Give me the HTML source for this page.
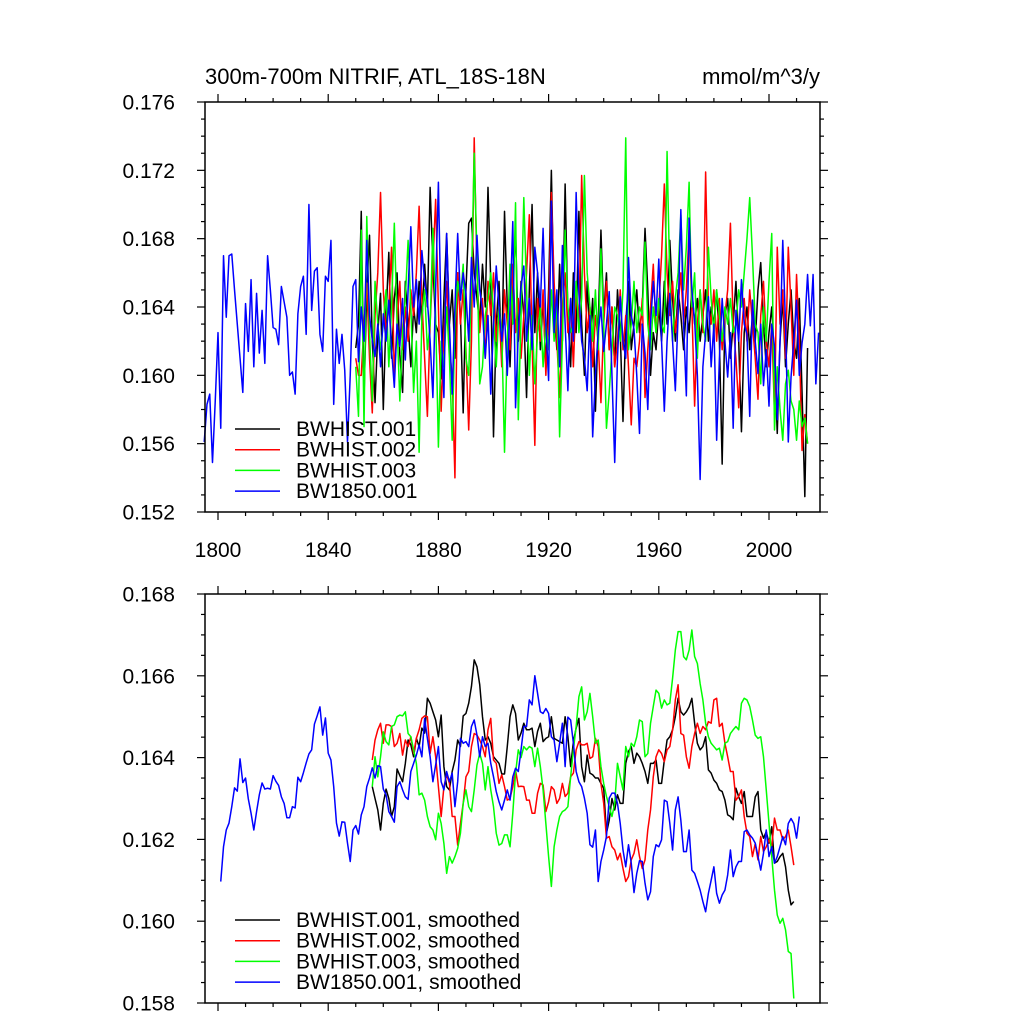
<!DOCTYPE html>
<html><head><meta charset="utf-8">
<style>
html,body{margin:0;padding:0;background:#fff;}
svg{display:block;font-family:"Liberation Sans",sans-serif;}
</style></head>
<body>
<svg id="chart" width="1024" height="1024" viewBox="0 0 1024 1024">
<text x="205" y="84" font-size="22">300m-700m NITRIF, ATL_18S-18N</text>
<text x="820" y="84" font-size="22" text-anchor="end">mmol/m^3/y</text>
<g id="top"></g>
<g id="bot"></g>
</svg>
<script>
const xTickYears = [1800,1840,1880,1920,1960,2000];
const topYTicks = [0.152,0.156,0.160,0.164,0.168,0.172,0.176];
const botYTicks = [0.158,0.160,0.162,0.164,0.166,0.168];
const seriesNames = ["BWHIST.001","BWHIST.002","BWHIST.003","BW1850.001"];
const seriesColors = ["#000000","#ff0000","#00ff00","#0000ff"];

const blackTopStart = 1850;
const blackTop = [161.6,163.0,169.6,158.7,165.0,168.2,162.0,158.4,162.5,164.8,
158.0,163.5,167.2,161.0,164.5,166.0,161.2,159.0,165.5,163.0,
160.5,164.0,162.5,165.5,163.0,166.5,164.0,171.0,166.5,163.0,
162.5,159.8,164.5,168.3,163.0,165.0,161.0,166.0,163.5,157.8,
165.0,168.9,169.2,166.0,164.5,163.0,166.5,164.0,171.0,165.5,
156.4,163.0,165.5,161.0,169.6,164.0,160.5,165.0,168.5,162.0,
165.5,163.5,158.7,165.0,170.0,162.5,166.0,161.5,164.5,160.5,
165.0,172.0,164.0,161.5,166.5,162.0,171.2,163.5,160.5,166.0,
162.5,169.6,163.0,160.0,165.5,162.0,164.5,157.9,163.0,168.5,
163.5,166.0,161.5,164.0,160.5,165.0,162.5,157.3,163.0,165.5,
161.5,163.0,165.0,162.5,164.0,168.6,165.0,160.0,162.5,161.5,
164.0,162.0,165.5,163.0,167.9,164.5,162.0,165.0,163.5,161.5,
164.0,162.5,165.0,163.0,164.5,162.0,163.5,165.0,162.0,164.0,
163.0,165.0,162.0,154.8,163.5,164.5,161.0,163.0,165.5,162.0,
156.7,162.5,164.0,161.5,163.5,162.0,165.0,166.6,163.0,160.5,
162.5,164.0,161.0,156.6,162.0,164.5,160.5,163.0,165.0,162.0,
161.0,164.5,159.0,152.9,161.6];
const redTopStart = 1850;
const redTop = [161.0,160.0,160.0,163.0,165.4,161.0,157.8,163.5,166.0,170.7,
165.0,162.5,164.0,167.5,160.0,163.0,165.5,161.5,164.0,162.0,
165.0,163.5,166.0,169.9,164.5,161.0,157.6,163.0,166.5,170.3,
164.0,157.9,162.5,165.5,161.5,160.0,154.0,166.0,163.0,165.0,
161.5,156.8,162.0,173.9,166.0,162.5,164.5,161.0,165.5,163.5,
166.0,162.0,164.0,160.5,165.0,163.0,161.5,166.5,162.5,164.5,
161.0,163.5,166.0,169.4,162.0,155.9,164.5,162.0,165.0,160.0,
163.5,170.7,165.5,162.0,158.7,164.0,166.0,162.5,164.5,160.5,
165.0,163.0,171.7,166.0,162.5,164.0,160.5,163.5,162.0,158.4,
163.0,165.5,161.5,164.0,160.5,162.0,165.0,161.5,163.5,160.5,
157.1,161.0,160.5,162.0,164.5,158.7,161.5,164.0,166.5,162.5,
164.0,167.0,171.2,166.0,163.5,165.5,162.5,164.0,166.0,163.0,
165.0,168.5,164.0,158.2,163.0,165.0,162.5,171.9,164.0,163.0,
165.0,162.0,164.5,161.5,163.5,165.0,168.9,163.0,161.0,158.1,
162.5,164.5,162.0,165.0,163.0,161.0,158.6,163.5,165.5,162.0,
160.5,163.0,157.7,167.5,163.0,165.0,161.0,167.5,164.0,160.0,
165.9,162.0,155.6,157.7,156.0];
const greenTopStart = 1850;
const greenTop = [160.5,157.6,168.5,157.0,169.3,162.5,158.5,165.5,163.0,161.5,
163.0,165.0,160.5,164.0,168.9,163.0,158.5,162.5,164.5,167.9,
164.0,159.0,162.0,155.5,163.5,165.0,161.5,163.0,168.6,163.5,
155.8,162.0,160.5,164.0,161.0,156.2,163.0,165.5,164.5,166.5,
161.0,160.0,165.5,173.0,167.0,159.5,160.5,163.5,164.5,166.0,
163.5,160.5,164.0,162.5,155.5,162.0,166.5,163.0,170.1,157.4,
163.5,170.4,165.0,160.0,163.5,159.5,162.5,164.0,160.5,163.0,
161.5,165.0,162.0,164.5,156.4,162.0,168.5,164.0,162.5,163.0,
165.5,162.5,164.5,171.7,166.0,164.0,162.0,165.0,161.5,167.4,
163.0,156.9,159.0,161.5,164.0,163.5,162.0,165.0,173.9,161.5,
163.0,165.5,162.5,164.0,163.5,167.8,163.0,161.5,164.0,162.5,
164.5,163.0,162.5,173.1,165.5,162.0,164.5,166.0,169.4,165.0,
167.5,171.3,164.0,166.0,161.0,165.0,163.0,162.0,167.5,164.5,
162.5,165.0,163.5,162.0,164.0,163.0,164.5,162.5,163.0,165.0,
164.0,166.0,168.0,170.4,167.0,163.0,162.5,159.5,164.0,162.0,
165.5,168.3,156.8,160.5,158.0,156.2,159.5,160.3,158.5,158.0,
156.2,158.5,157.0,157.5,156.0];
const blueTopStart = 1795;
const blueTop = [156.1,158.3,158.9,154.9,158.5,162.5,156.9,167.0,163.4,167.0,
167.1,165.0,163.0,161.0,159.0,164.2,161.4,165.6,160.5,164.8,
161.3,163.8,160.7,167.0,165.0,162.8,162.7,161.8,165.2,164.3,
163.4,160.0,160.2,158.9,163.6,165.2,165.8,162.4,170.0,163.8,
166.1,166.3,162.4,161.4,165.8,165.5,167.9,158.3,162.7,160.7,
162.4,160.3,156.1,160.0,165.2,165.6,
160.8,164.0,162.0,167.9,163.5,162.1,161.1,163.0,160.5,
163.6,162.0,164.4,161.5,159.3,163.0,161.7,164.5,160.9,165.0,
168.7,164.0,165.6,163.0,167.3,165.5,164.4,162.0,158.7,165.0,
171.3,163.0,158.7,168.3,163.0,158.9,164.0,168.3,164.4,166.0,
164.8,162.0,166.9,164.0,168.2,165.0,163.8,161.0,163.5,158.9,
163.0,166.4,164.0,162.0,163.6,160.0,164.0,169.0,158.1,162.5,
165.2,166.4,162.0,164.5,161.5,167.5,166.0,164.0,168.6,163.0,
159.7,170.2,162.5,165.0,160.5,167.6,163.0,159.1,164.5,162.0,
170.7,164.8,162.0,161.0,159.1,163.5,156.4,160.0,162.5,164.0,
161.4,163.0,164.9,160.0,154.9,161.0,164.6,162.0,161.0,166.9,
163.5,162.7,160.0,156.6,163.0,161.3,158.0,163.0,165.5,163.5,
166.8,162.0,157.9,162.0,164.8,162.0,159.1,163.5,169.7,163.0,
158.8,169.2,165.0,163.2,160.0,153.9,160.5,162.5,164.6,160.5,
163.0,156.2,161.0,164.5,162.0,159.9,162.5,156.9,163.8,162.0,
165.6,163.0,162.4,157.6,164.4,162.0,160.1,163.0,159.4,161.5,
158.2,163.0,161.7,157.4,162.0,167.9,163.0,156.1,159.9,162.0,
164.4,160.0,161.9,163.0,165.9,162.9,165.9,159.5,162.5];

const blackBotStart = 1856;
const blackBot = [163.29,163.0,162.72,162.23,162.88,163.23,163.0,162.56,162.80,163.72,
163.56,163.41,163.86,164.43,164.31,164.02,164.47,164.27,164.72,164.6,
165.45,165.33,165.12,164.92,164.51,165.04,163.78,163.29,163.21,163.66,
163.94,164.43,164.27,165.02,165.08,165.33,165.74,166.39,166.22,165.78,
165.0,164.43,164.51,164.35,164.02,163.94,163.86,163.6,163.6,164.27,
165.0,165.29,165.08,164.43,164.6,
164.84,164.68,164.68,164.72,164.27,164.64,164.84,164.39,164.47,164.51,
165.0,164.47,164.43,164.39,164.35,165.0,164.51,163.78,164.39,164.72,
164.96,163.78,163.41,164.06,163.62,163.58,163.5,163.5,163.37,163.25,
162.15,162.47,163.0,162.72,163.09,162.88,162.88,163.86,164.15,164.27,
163.86,164.11,164.02,163.86,163.66,163.37,163.86,163.86,163.94,163.37,
163.37,163.94,164.43,164.51,164.68,165.0,165.45,165.12,165.04,165.12,
165.24,165.45,164.84,164.35,164.19,164.27,164.51,163.7,163.62,163.45,
163.37,163.21,163.17,162.96,162.6,162.56,162.48,163.25,163.04,162.88,
163.17,162.56,162.56,162.56,163.04,163.17,162.23,162.03,162.19,161.91,
162.31,161.42,161.46,161.58,161.66,161.33,160.76,160.4,160.48];
const redBotStart = 1856;
const redBot = [163.94,164.43,164.68,164.84,164.35,164.80,164.80,164.76,164.27,164.35,
164.59,164.06,164.43,164.27,164.51,164.10,164.47,164.68,164.96,165.02,
165.0,164.10,164.51,164.02,163.29,162.56,163.29,163.58,163.37,162.56,
162.56,161.86,162.39,162.88,163.53,163.66,164.27,164.59,164.55,164.43,
164.27,164.02,164.68,164.96,163.94,163.86,163.37,163.58,163.29,162.96,
163.0,163.29,163.70,163.29,163.3,
163.29,162.96,162.96,162.64,162.64,163.13,163.37,163.33,162.68,162.92,
163.29,163.21,162.88,163.0,163.37,163.05,163.13,163.53,163.62,164.19,
164.39,164.31,164.31,164.35,163.98,164.02,164.47,164.27,163.37,162.88,
162.03,162.07,161.82,161.74,161.50,161.66,161.29,160.97,161.09,161.50,
161.66,161.99,161.58,161.29,161.50,162.23,162.72,163.53,164.02,164.19,
164.10,163.90,164.19,164.27,164.68,165.41,165.78,164.59,164.55,164.02,
163.74,164.27,164.59,164.84,164.59,164.76,164.68,164.88,164.84,165.41,
165.45,164.76,164.84,164.35,164.02,163.66,163.66,162.96,163.05,163.21,
162.56,162.15,162.07,161.58,161.90,161.50,162.07,161.70,161.82,161.99,
161.82,162.52,162.23,162.23,161.99,162.07,162.23,161.82,161.37];
const greenBotStart = 1856;
const greenBot = [163.29,164.02,163.53,164.02,164.63,164.39,164.31,164.76,164.80,165.0,
165.04,165.02,165.12,164.59,164.51,164.19,163.86,163.09,163.13,162.96,
162.56,162.31,162.23,161.99,162.64,162.39,161.90,161.17,161.58,161.42,
161.58,161.78,162.15,162.88,163.21,162.80,162.68,163.21,163.82,164.10,
163.86,163.21,163.78,163.21,162.80,162.15,161.86,161.90,162.11,162.11,
161.82,162.64,163.62,164.19,164.0,
164.27,164.19,164.27,164.23,163.78,164.23,163.78,163.21,162.39,161.58,
160.85,161.82,162.23,162.56,162.68,162.72,162.80,163.53,164.19,164.76,
165.49,165.73,164.92,165.12,165.57,165.0,164.35,164.43,163.78,163.37,
163.05,162.80,162.56,162.88,163.86,163.53,163.21,164.27,164.02,164.35,
164.27,164.51,164.92,164.88,164.02,164.10,164.84,165.25,165.65,165.57,
165.21,165.41,165.29,165.33,165.94,166.63,167.08,167.08,166.47,166.39,
166.63,167.12,166.47,166.30,165.81,165.41,164.84,164.51,164.35,164.27,
164.19,164.23,163.94,164.35,164.39,164.59,164.68,164.76,164.68,165.33,
165.45,165.41,165.25,164.92,164.55,164.47,164.51,164.02,163.21,162.39,
161.58,160.76,160.15,159.95,160.07,159.79,159.26,159.21,158.11];
const blueBotStart = 1801;
const blueBot = [160.97,161.82,162.23,162.40,162.80,163.26,163.18,163.97,163.39,163.50,
162.99,162.64,162.23,162.68,163.09,163.38,163.23,163.25,163.23,163.56,
163.42,163.32,163.04,162.88,162.53,162.53,162.80,162.77,163.52,163.41,
163.63,163.87,164.09,164.19,164.82,165.02,165.24,164.55,164.97,164.11,
163.94,163.29,162.40,162.08,162.43,162.42,161.91,161.46,162.23,162.34,
162.13,162.60,162.80,163.29,163.50,163.75,163.50,163.80,163.78,163.23,
163.09,162.68,162.56,162.42,163.29,163.41,163.21,163.04,162.98,163.66,
163.86,164.06,164.31,164.02,164.96,164.47,164.02,163.41,163.82,164.27,
163.41,163.21,163.66,163.41,163.62,162.80,163.41,164.47,164.35,164.39,
164.27,164.76,164.92,164.55,164.02,164.51,164.27,164.35,163.86,163.53,
163.17,162.92,162.72,162.96,163.21,162.96,163.53,163.74,
163.66,164.19,164.76,164.76,165.41,165.29,166.0,165.57,165.12,165.08,
165.2,165.08,164.51,164.43,163.9,164.35,164.84,163.78,164.99,164.92,
164.35,163.66,163.41,163.29,163.01,162.64,161.87,161.81,162.23,160.97,
161.46,161.74,162.07,163.01,163.13,163.13,162.88,162.39,161.74,161.33,
161.87,161.42,160.7,161.17,161.48,161.46,160.93,160.52,160.72,161.58,
161.87,161.82,161.99,162.96,162.92,162.39,161.74,162.72,163.04,162.47,
161.70,161.70,162.23,161.25,161.17,160.97,160.76,160.48,160.23,160.68,
161.0,161.33,160.68,160.44,160.64,160.76,161.13,161.74,161.09,161.33,
161.46,161.46,162.19,162.23,162.11,162.03,161.91,161.58,161.25,161.66,
162.23,161.58,161.82,161.42,161.58,161.82,162.07,161.87,162.39,162.51,
162.39,162.03,162.56];

const NS = "http://www.w3.org/2000/svg";
const X0 = 205, X1 = 820;
function xScale(yr){ return 218 + (yr - 1800) * (769 - 218) / 200; }
function mk(tag, attrs, parent){
  const el = document.createElementNS(NS, tag);
  for (const k in attrs) el.setAttribute(k, attrs[k]);
  parent.appendChild(el);
  return el;
}

function drawPanel(g, yTop, yBot, vMin, vMax, yTicks, minorStep, series, legendLabels, legendY, showXLabels){
  const yScale = v => yBot - (v - vMin) / (vMax - vMin) * (yBot - yTop);
  series.forEach((s, i) => {
    let d = "";
    s.vals.forEach((v, k) => {
      d += (k ? "L" : "M") + xScale(s.start + k).toFixed(2) + "," + yScale(v / 1000).toFixed(2);
    });
    const p = mk("path", {d: d, fill: "none", stroke: seriesColors[i], "stroke-width": 1.5, "stroke-linejoin": "round"}, g);
    
    
  });
  const fr = mk("rect", {x: X0, y: yTop, width: X1 - X0, height: yBot - yTop, fill: "none", stroke: "#000", "stroke-width": 1.5}, g);
  
  
  const nMinor = Math.round((vMax - vMin) / minorStep);
  for (let k = 0; k <= nMinor; k++) {
    const v = vMin + k * minorStep;
    const y = yScale(v);
    const major = yTicks.some(t => Math.abs(t - v) < 1e-7);
    const len = major ? 8 : 4;
    const t1 = mk("line", {x1: X0 - len, x2: X0, y1: y, y2: y, stroke: "#000", "stroke-width": 1.2}, g);
    
    
    const t2 = mk("line", {x1: X1, x2: X1 + len, y1: y, y2: y, stroke: "#000", "stroke-width": 1.2}, g);
    
    
  }
  yTicks.forEach(t => {
    const tx = mk("text", {x: 175, y: yScale(t) + 7.5, "font-size": 21, "text-anchor": "end"}, g);
    tx.textContent = t.toFixed(3);
    
    
  });
  for (let yr = 1800; yr <= 2010; yr += 10) {
    const x = xScale(yr);
    const major = xTickYears.indexOf(yr) >= 0;
    const len = major ? 8 : 4;
    const b = mk("line", {x1: x, x2: x, y1: yBot, y2: yBot + len, stroke: "#000", "stroke-width": 1.2}, g);
    
    
    const t = mk("line", {x1: x, x2: x, y1: yTop - len, y2: yTop, stroke: "#000", "stroke-width": 1.2}, g);
    
    
  }
  if (showXLabels) {
    xTickYears.forEach(yr => {
      const tx = mk("text", {x: xScale(yr), y: yBot + 45, "font-size": 21, "text-anchor": "middle"}, g);
      tx.textContent = String(yr);
      
      
    });
  }
  legendLabels.forEach((lab, i) => {
    const y = legendY + i * 20.7;
    const ln = mk("line", {x1: 235, x2: 280, y1: y, y2: y, stroke: seriesColors[i], "stroke-width": 1.5}, g);
    
    
    const tx = mk("text", {x: 296, y: y + 7, "font-size": 21}, g);
    tx.textContent = lab;
    
    
  });
}

const topG = document.getElementById("top");


drawPanel(topG, 102, 512, 0.152, 0.176, topYTicks, 0.001, [
  {start: blackTopStart, vals: blackTop},
  {start: redTopStart, vals: redTop},
  {start: greenTopStart, vals: greenTop},
  {start: blueTopStart, vals: blueTop}
], seriesNames, 429, true);

const botG = document.getElementById("bot");


drawPanel(botG, 594, 1003, 0.158, 0.168, botYTicks, 0.0005, [
  {start: blackBotStart, vals: blackBot},
  {start: redBotStart, vals: redBot},
  {start: greenBotStart, vals: greenBot},
  {start: blueBotStart, vals: blueBot}
], seriesNames.map(n => n + ", smoothed"), 920, false);
</script>
</body></html>
